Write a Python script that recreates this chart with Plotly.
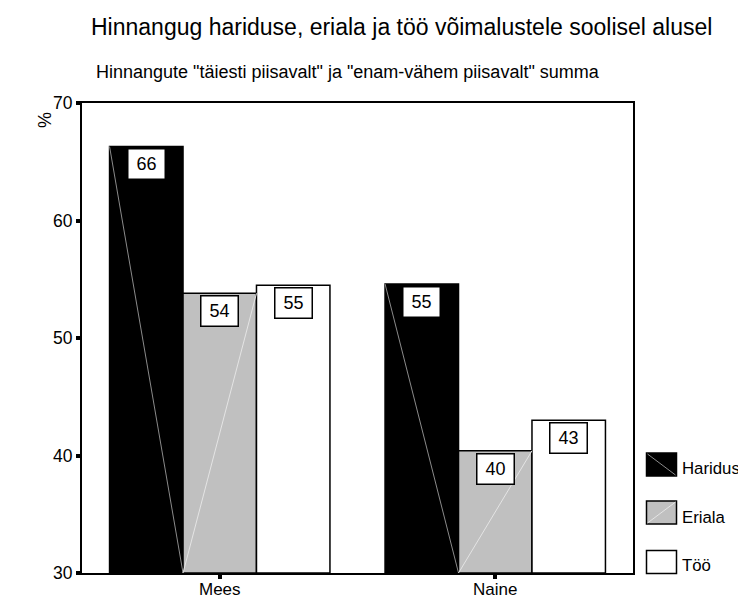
import plotly.graph_objects as go

# ---- data ----
categories = ["Mees", "Naine"]
series_names = ["Haridus", "Eriala", "Töö"]
haridus = [66.3, 54.6]
eriala = [53.8, 40.4]
too = [54.5, 43.0]
haridus_labels = ["66", "55"]
eriala_labels = ["54", "40"]
too_labels = ["55", "43"]
y_ticks = [30, 40, 50, 60, 70]

title_text = "Hinnangug hariduse, eriala ja töö võimalustele soolisel alusel"
subtitle_text = 'Hinnangute "täiesti piisavalt" ja "enam-vähem piisavalt" summa'
y_title = "%"

# ---- styling ----
FONT = "Liberation Sans, Arial, sans-serif"
OFF = 8  # page body margin
W, H = 746 - OFF, 601 - OFF
# plot area in reference (window) pixels: x 82..633, y 103..573
PL, PR, PT, PB = 82, 633, 103, 573
ML, MR, MT, MB = PL - OFF, W - (PR - OFF), PT - OFF, H - (PB - OFF)
PW, PH = PR - PL, PB - PT
colors = ["#000000", "#c0c0c0", "#ffffff"]
series_vals = [haridus, eriala, too]
series_labels = [haridus_labels, eriala_labels, too_labels]

def px_x(px):  # reference window pixel -> paper x
    return (px - PL) / PW

def px_y(py):  # reference window pixel -> paper y
    return (PB - py) / PH

bargap = 0.2
bw = (1 - bargap) / 3
ymin = y_ticks[0]

fig = go.Figure()
for name, vals, col in zip(series_names, series_vals, colors):
    fig.add_trace(go.Bar(
        name=name, x=categories, y=[v - ymin for v in vals], base=ymin,
        marker=dict(color=col, line=dict(color="#000000", width=1.5)),
        showlegend=False, hoverinfo="skip",
    ))

shapes = []
annotations = []
for i in range(len(categories)):
    # diagonal pattern artefacts in the filled bars
    x0 = i - 1.5 * bw
    shapes.append(dict(type="line", xref="x", yref="y",
                       x0=x0, y0=haridus[i], x1=x0 + bw, y1=ymin,
                       line=dict(color="#8a8a8a", width=1), layer="above"))
    x0 = i - 0.5 * bw
    shapes.append(dict(type="line", xref="x", yref="y",
                       x0=x0, y0=ymin, x1=x0 + bw, y1=eriala[i],
                       line=dict(color="#e4e4e4", width=1), layer="above"))
    # value labels
    for k, (vals, labs) in enumerate(zip(series_vals, series_labels)):
        xc = i + (k - 1) * bw
        annotations.append(dict(
            x=xc, y=vals[i], xref="x", yref="y", text=labs[i],
            showarrow=False, yanchor="top", xanchor="center", yshift=-2,
            font=dict(family=FONT, size=18, color="#000"),
            bgcolor="#ffffff", bordercolor="#000000", borderwidth=1.5,
            borderpad=1, width=34, height=27,
        ))

# titles
annotations.append(dict(xref="paper", yref="paper", x=px_x(89), y=px_y(27),
                        xanchor="left", yanchor="middle", showarrow=False,
                        text=title_text, font=dict(family=FONT, size=23, color="#000")))
annotations.append(dict(xref="paper", yref="paper", x=px_x(94), y=px_y(72),
                        xanchor="left", yanchor="middle", showarrow=False,
                        text=subtitle_text, font=dict(family=FONT, size=18, color="#000")))
annotations.append(dict(xref="paper", yref="paper", x=px_x(45), y=px_y(120),
                        xanchor="center", yanchor="middle", showarrow=False, textangle=-90,
                        text=y_title, font=dict(family=FONT, size=18, color="#000")))

# custom legend
leg_box_y = [464.5, 512.5, 562]
leg_text_y = [468, 517, 565]
for k, name in enumerate(series_names):
    cy = leg_box_y[k]
    bx0, bx1, by0, by1 = 646.5, 676.5, cy - 11.5, cy + 11.5
    shapes.append(dict(type="rect", xref="paper", yref="paper",
                       x0=px_x(bx0), x1=px_x(bx1), y0=px_y(by1), y1=px_y(by0),
                       fillcolor=colors[k], line=dict(color="#000", width=1.5)))
    if k == 0:
        shapes.append(dict(type="line", xref="paper", yref="paper",
                           x0=px_x(bx0 + 1), y0=px_y(by0 + 1), x1=px_x(bx1 - 1), y1=px_y(by1 - 1),
                           line=dict(color="#8a8a8a", width=1)))
    elif k == 1:
        shapes.append(dict(type="line", xref="paper", yref="paper",
                           x0=px_x(bx0 + 1), y0=px_y(by1 - 1), x1=px_x(bx1 - 1), y1=px_y(by0 + 1),
                           line=dict(color="#e4e4e4", width=1)))
    annotations.append(dict(xref="paper", yref="paper", x=px_x(679.5), y=px_y(leg_text_y[k]),
                            xanchor="left", yanchor="middle", showarrow=False,
                            text=name, font=dict(family=FONT, size=16.8, color="#000")))

fig.update_layout(
    width=W, height=H,
    margin=dict(l=ML, r=MR, t=MT, b=MB, autoexpand=False),
    paper_bgcolor="#ffffff", plot_bgcolor="#ffffff",
    barmode="group", bargap=bargap, bargroupgap=0,
    font=dict(family=FONT, size=17.5, color="#000"),
    shapes=shapes, annotations=annotations,
    showlegend=False,
)
fig.update_xaxes(
    type="category", range=[-0.5, 1.5], showgrid=False, zeroline=False,
    showline=True, linecolor="#000", linewidth=2, mirror=True,
    ticks="outside", ticklen=4, tickwidth=4, tickcolor="#000",
    ticklabelstandoff=-4,
    tickfont=dict(family=FONT, size=17, color="#000"),
)
fig.update_yaxes(
    range=[y_ticks[0], y_ticks[-1]], tickvals=y_ticks, showgrid=False, zeroline=False,
    showline=True, linecolor="#000", linewidth=2, mirror=True,
    ticks="outside", ticklen=4, tickwidth=4, tickcolor="#000",
    tickfont=dict(family=FONT, size=17.5, color="#000"),
)

fig.write_html("out.html")
